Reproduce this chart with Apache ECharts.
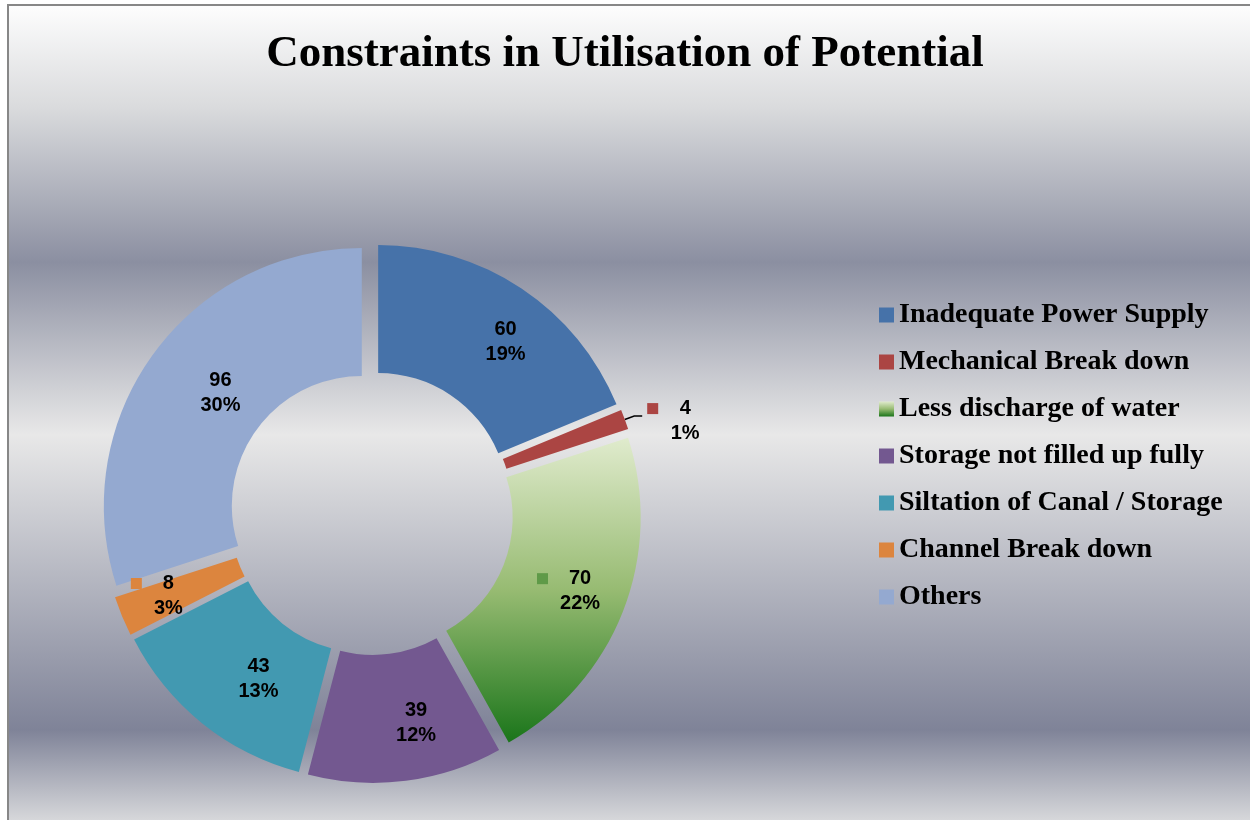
<!DOCTYPE html>
<html>
<head>
<meta charset="utf-8">
<script src="https://cdn.jsdelivr.net/npm/echarts@6/dist/echarts.min.js"></script>
<style>html,body{margin:0;padding:0;background:#fff;}#c{width:1250px;height:820px;}</style>
</head>
<body>
<div id="c"></div>
<script>
const titleText = 'Constraints in Utilisation of Potential';
const categories = ['Inadequate Power Supply','Mechanical Break down','Less discharge of water','Storage not filled up fully','Siltation of Canal / Storage','Channel Break down','Others'];
const values = [60, 4, 70, 39, 43, 8, 96];
const keyShown = [false, true, true, false, false, true, false];

const chart = echarts.init(document.getElementById('c'));
const greenGrad = new echarts.graphic.LinearGradient(0,0,0,1,[{offset:0,color:'#e0ebcd'},{offset:0.5,color:'#97bb72'},{offset:1,color:'#1a751a'}]);
const colors = ['#4672a9', '#ab4543', greenGrad, '#735890', '#4299b1', '#dc853e', '#94a9d0'];
const keyColors = ['#4672a9', '#ab4543', '#5f9a48', '#735890', '#4299b1', '#dc853e', '#94a9d0'];
const total = values.reduce((a,b)=>a+b,0);

const data = categories.map((name,i)=>{
  const item = {name, value: values[i], selected: true, itemStyle:{color: colors[i]}};
  if (i === 1) {
    item.label = {position:'outside', padding:[10,0,0,0]};
    item.labelLine = {show:true, length:10, length2:8, smooth:false, lineStyle:{color:'#000', width:1.5}};
  }
  if (i === 2) {
    item.label = {padding:[4,0,0,28]};
  }
  if (i === 5) {
    item.label = {padding:[6,20,0,0]};
  }
  return item;
});

const txt = {fontFamily:'Liberation Sans', fontWeight:'bold', fontSize:20, color:'#000', lineHeight:25};
const rich = {
  v: Object.assign({}, txt),
  p: Object.assign({}, txt),
  vc: Object.assign({width:12, align:'center'}, txt),
  pc: Object.assign({width:12, align:'center'}, txt),
  gap:{width:21, height:11},
  sp:{width:32, height:11}
};
keyColors.forEach((c,i)=>{ rich['k'+i] = {width:11, height:11, backgroundColor: c}; });

chart.setOption({
  animation:false,
  graphic:[{
    type:'rect', z:-10, silent:true,
    shape:{x:8, y:5, width:1300, height:900},
    style:{
      fill: new echarts.graphic.LinearGradient(0,0,0,820,[
        {offset:0,color:'#ffffff'},
        {offset:0.13,color:'#dadbdd'},
        {offset:0.32,color:'#8b8fa1'},
        {offset:0.53,color:'#e8e8e8'},
        {offset:0.89,color:'#7f8398'},
        {offset:1,color:'#d6d7da'}], true),
      stroke:'#878787', lineWidth:2
    }
  }],
  title:{
    text:titleText, left:'center', top:27,
    textStyle:{fontFamily:'Liberation Serif', fontWeight:'bold', fontSize:45, color:'#000'}
  },
  legend:{
    orient:'vertical', left:879, top:300, padding:0, itemWidth:15, itemHeight:15, itemGap:17,
    icon:'rect', selectedMode:false,
    textStyle:{fontFamily:'Liberation Serif', fontWeight:'bold', fontSize:28, color:'#000', lineHeight:30},
    data:categories
  },
  series:[{
    type:'pie', center:[371.5, 513], radius:[130, 258],
    startAngle:90, clockwise:true,
    selectedMode:'multiple', selectedOffset:12,
    avoidLabelOverlap:false,
    emphasis:{disabled:true},
    label:{
      show:true, position:'inside', padding:[6,0,0,36],
      formatter:(p)=>{
        const pct = Math.round(p.value/total*100);
        const i = p.dataIndex;
        if (i === 1) return '{k'+i+'|}{gap|}{vc|'+p.value+'}{sp|}\n{sp|}{pc|'+pct+'%}{sp|}';
        if (keyShown[i]) return '{k'+i+'|}{gap|}{v|'+p.value+'}{sp|}\n{p|'+pct+'%}';
        return '{v|'+p.value+'}\n{p|'+pct+'%}';
      },
      rich
    },
    labelLine:{show:false},
    data
  }]
});
</script>
</body>
</html>
